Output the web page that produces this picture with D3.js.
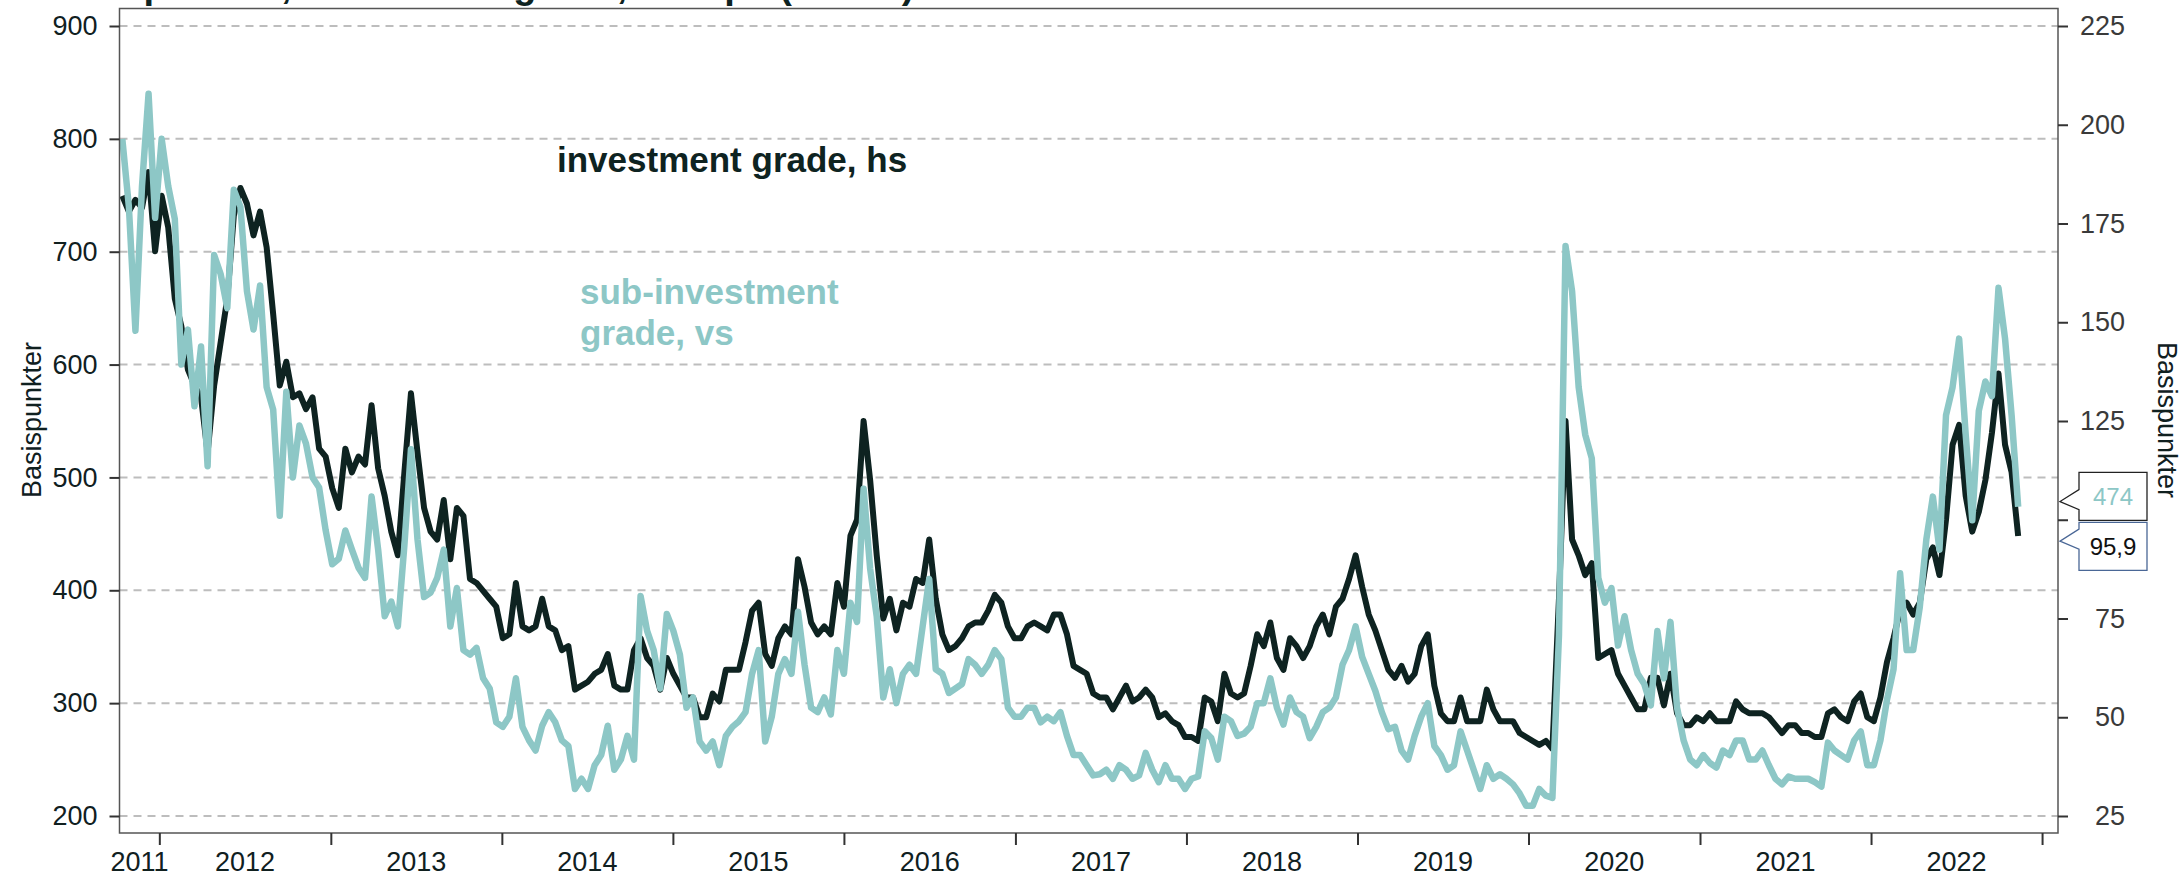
<!DOCTYPE html>
<html>
<head>
<meta charset="utf-8">
<script src="https://cdn.jsdelivr.net/npm/d3@7"></script>
<style>
  body { margin: 0; background: #fff; }
  svg { display: block; font-family: "Liberation Sans", Arial, sans-serif; }
</style>
</head>
<body>
<svg id="chart" width="2183" height="878"></svg>
<script>
// fortnightly observations, first one on this date
var startDate = '2011-10-14';
var stepDays = 14;

// sub-investment grade (left axis, basispunkter)
var subInvestment = [
  800, 740, 630, 758, 840, 730, 800, 758, 729, 600, 631, 563, 616, 510, 697, 680, 650, 755, 740, 665,
  631, 670, 580, 560, 466, 576, 500, 546, 530, 500, 491, 453, 423, 428, 453, 436, 420, 411, 483, 436,
  377, 390, 368, 440, 525, 445, 394, 398, 411, 436, 368, 402, 347, 343, 349, 322, 313, 283, 279, 288,
  322, 279, 267, 258, 280, 292, 283, 267, 262, 224, 233, 224, 245, 254, 280, 241, 250, 271, 250, 395,
  364, 347, 313, 379, 364, 343, 296, 305, 266, 258, 266, 245, 271, 279, 284, 292, 326, 347, 266, 288,
  326, 339, 326, 381, 334, 296, 292, 305, 290, 347, 326, 389, 372, 490, 419, 377, 305, 330, 300, 326,
  334, 326, 368, 410, 330, 326, 309, 313, 317, 339, 334, 326, 334, 347, 339, 296, 288, 288, 296, 296,
  283, 288, 284, 292, 271, 254, 254, 245, 236, 237, 241, 233, 245, 241, 233, 236, 256, 241, 230, 245,
  233, 233, 224, 233, 235, 275, 269, 250, 288, 284, 271, 273, 279, 300, 300, 322, 296, 281, 305, 292,
  288, 269, 279, 292, 296, 305, 334, 347, 368, 341, 326, 311, 292, 277, 279, 258, 250, 271, 288, 300,
  262, 254, 241, 245, 275, 258, 241, 224, 245, 233, 237, 233, 228, 220, 209, 209, 224, 218, 216, 360,
  705, 665, 580, 538, 517, 411, 389, 402, 351, 377, 347, 326, 317, 298, 364, 322, 372, 296, 267, 250,
  245, 254, 247, 243, 258, 254, 267, 267, 250, 250, 258, 245, 233, 228, 235, 233, 233, 233, 230, 226,
  265, 258, 254, 250, 267, 275, 245, 245, 267, 303, 330, 415, 347, 347, 385, 445, 483, 436, 555, 580,
  623, 538, 462, 559, 585, 572, 668, 623, 555, 474
];

// investment grade (right axis, basispunkter)
var investmentGrade = [
  182, 178, 181, 179, 188, 168, 182, 174, 156, 149, 138, 134, 131, 117, 134, 145, 156, 177, 184, 180,
  172, 178, 169, 152, 134, 140, 131, 132, 128, 131, 118, 116, 108, 103, 118, 112, 116, 114, 129, 113,
  106, 97, 91, 112, 132, 117, 103, 97, 95, 105, 90, 103, 101, 85, 84, 82, 80, 78, 70, 71,
  84, 73, 72, 73, 80, 73, 72, 67, 68, 57, 58, 59, 61, 62, 66, 58, 57, 57, 67, 70,
  65, 63, 57, 65, 61, 58, 55, 55, 50, 50, 56, 54, 62, 62, 62, 69, 77, 79, 66, 63,
  70, 73, 71, 90, 83, 74, 71, 73, 71, 84, 78, 96, 100, 125, 110, 91, 75, 80, 72, 79,
  78, 85, 84, 95, 80, 71, 67, 68, 70, 73, 74, 74, 77, 81, 79, 73, 70, 70, 73, 74,
  73, 72, 76, 76, 71, 63, 62, 61, 56, 55, 55, 52, 55, 58, 54, 55, 57, 55, 50, 51,
  49, 48, 45, 45, 44, 55, 54, 49, 61, 56, 55, 56, 63, 71, 68, 74, 65, 62, 70, 68,
  65, 68, 73, 76, 71, 78, 80, 85, 91, 83, 76, 72, 67, 62, 60, 63, 59, 61, 68, 71,
  58, 51, 49, 49, 55, 49, 49, 49, 57, 52, 49, 49, 49, 46, 45, 44, 43, 44, 42, 80,
  125, 95, 91, 86, 89, 65, 66, 67, 61, 58, 55, 52, 52, 60, 60, 53, 61, 51, 48, 48,
  50, 49, 51, 49, 49, 49, 54, 52, 51, 51, 51, 50, 48, 46, 48, 48, 46, 46, 45, 45,
  51, 52, 50, 49, 54, 56, 50, 49, 55, 64, 70, 77, 79, 76, 79, 90, 93, 86, 100, 119,
  124, 106, 97, 102, 110, 122, 137, 119, 112, 95.9
];

var leftTicks = [200, 300, 400, 500, 600, 700, 800, 900];
var rightTicks = [25, 50, 75, 100, 125, 150, 175, 200, 225];
var yearLabels = ['2011', '2012', '2013', '2014', '2015', '2016', '2017', '2018', '2019', '2020', '2021', '2022'];

var titleText = 'Kredittspreader, investment grade, Europa (iTraxx)';
var axisTitle = 'Basispunkter';
var igLabel = 'investment grade, hs';
var subLabel = ['sub-investment', 'grade, vs'];

var teal = '#8dc7c6';
var dark = '#0e2321';

var svg = d3.select('#chart');
var plotLeft = 119.5, plotRight = 2058, plotTop = 8.5, plotBottom = 833;

var parse = d3.timeParse('%Y-%m-%d');
var t0 = parse(startDate);
var dates = subInvestment.map((v, i) => d3.timeDay.offset(t0, i * stepDays));

var x = d3.scaleTime()
  .domain([parse('2011-10-08'), parse('2023-02-04')])
  .range([plotLeft, plotRight]);
var yLeft = d3.scaleLinear().domain([200, 900]).range([816, 26]);
var yRight = d3.scaleLinear().domain([25, 225]).range([816, 26]);

var nb = d3.formatLocale({ decimal: ',', thousands: ' ', grouping: [3], currency: ['', ' kr'] });

// title (mostly outside the picture, as in the original)
svg.append('text')
  .attr('x', 0).attr('y', -2)
  .style('font-size', '38px').style('font-weight', 'bold').attr('fill', dark)
  .text(titleText);

// grid
svg.append('g').selectAll('line')
  .data(leftTicks)
  .enter().append('line')
  .attr('x1', plotLeft).attr('x2', plotRight)
  .attr('y1', d => yLeft(d)).attr('y2', d => yLeft(d))
  .attr('stroke', '#bdbdbd').attr('stroke-width', 2)
  .attr('stroke-dasharray', '8,6');

// series
svg.append('clipPath').attr('id', 'plot')
  .append('rect')
  .attr('x', plotLeft).attr('y', plotTop)
  .attr('width', plotRight - plotLeft).attr('height', plotBottom - plotTop);

var lineLeft = d3.line().x((d, i) => x(dates[i])).y(d => yLeft(d));
var lineRight = d3.line().x((d, i) => x(dates[i])).y(d => yRight(d));

var lines = svg.append('g').attr('clip-path', 'url(#plot)');
lines.append('path')
  .datum(investmentGrade)
  .attr('d', lineRight)
  .attr('fill', 'none').attr('stroke', dark).attr('stroke-width', 6)
  .attr('stroke-linejoin', 'round');
lines.append('path')
  .datum(subInvestment)
  .attr('d', lineLeft)
  .attr('fill', 'none').attr('stroke', teal).attr('stroke-width', 6.5)
  .attr('stroke-linejoin', 'round');

// frame
svg.append('rect')
  .attr('x', plotLeft).attr('y', plotTop)
  .attr('width', plotRight - plotLeft).attr('height', plotBottom - plotTop)
  .attr('fill', 'none').attr('stroke', '#555').attr('stroke-width', 1.5);

// left axis
var gl = svg.append('g')
  .attr('transform', `translate(${plotLeft},0)`)
  .call(d3.axisLeft(yLeft).tickValues(leftTicks).tickSize(10).tickPadding(12));
gl.select('.domain').remove();
gl.selectAll('line').attr('stroke', '#333').attr('stroke-width', 2);
gl.selectAll('text').style('font-size', '27px').attr('fill', '#10201f');

// last-value callouts: positions first, so the right axis can skip labels under them
var lastSub = subInvestment[subInvestment.length - 1];
var lastIg = investmentGrade[investmentGrade.length - 1];
var callouts = [
  { v: yLeft(lastSub), text: nb.format(',.0f')(lastSub), color: teal, border: '#222' },
  { v: yRight(lastIg), text: nb.format(',.1f')(lastIg), color: '#111', border: '#4a6796' }
];
callouts.sort((a, b) => a.v - b.v);
var boxH = 48, gap = 2;
var mid = (callouts[0].v + callouts[1].v) / 2;
if (callouts[1].v - callouts[0].v < boxH + gap) {
  callouts[0].c = mid - (boxH + gap) / 2;
  callouts[1].c = mid + (boxH + gap) / 2;
} else {
  callouts.forEach(d => d.c = d.v);
}
var covered = v => callouts.some(d => Math.abs(yRight(v) - d.c) < boxH / 2);

// right axis
var gr = svg.append('g')
  .attr('transform', `translate(${plotRight},0)`)
  .call(d3.axisRight(yRight).tickValues(rightTicks).tickSize(10)
    .tickFormat(v => covered(v) ? '' : v));
gr.select('.domain').remove();
gr.selectAll('line').attr('stroke', '#333').attr('stroke-width', 2);
gr.selectAll('text')
  .attr('x', 67).attr('text-anchor', 'end')
  .style('font-size', '27px').attr('fill', '#3a3a3a');

// bottom axis: year boundaries as ticks, labels in the middle of each year
var yearTicks = d3.timeYear.range(parse('2012-01-01'), parse('2023-01-02'));
var gb = svg.append('g')
  .attr('transform', `translate(0,${plotBottom})`)
  .call(d3.axisBottom(x).tickValues(yearTicks).tickSize(12).tickFormat(''));
gb.select('.domain').remove();
gb.selectAll('line').attr('stroke', '#333').attr('stroke-width', 2);

svg.append('g').selectAll('text')
  .data(yearLabels)
  .enter().append('text')
  .attr('x', d => {
    var a = Math.max(x(parse(d + '-01-01')), plotLeft);
    var b = Math.min(x(parse((+d + 1) + '-01-01')), plotRight);
    return (a + b) / 2;
  })
  .attr('y', 871)
  .attr('text-anchor', 'middle')
  .style('font-size', '27px').attr('fill', '#10201f')
  .text(d => d);

// axis titles
svg.append('text')
  .attr('transform', 'translate(41,420) rotate(-90)')
  .attr('text-anchor', 'middle')
  .style('font-size', '27px').attr('fill', '#10201f')
  .text(axisTitle);
svg.append('text')
  .attr('transform', 'translate(2158,420) rotate(90)')
  .attr('text-anchor', 'middle')
  .style('font-size', '27px').attr('fill', '#10201f')
  .text(axisTitle);

// series labels
svg.append('text')
  .attr('x', 557).attr('y', 172)
  .style('font-size', '35px').style('font-weight', 'bold').attr('fill', dark)
  .text(igLabel);
svg.append('text')
  .attr('x', 580).attr('y', 304)
  .style('font-size', '35px').style('font-weight', 'bold').attr('fill', teal)
  .selectAll('tspan').data(subLabel).enter().append('tspan')
  .attr('x', 580).attr('dy', (d, i) => i ? 41 : 0)
  .text(d => d);

// callout boxes
var bx = 2079, bw = 68, tipX = plotRight + 2;
callouts.forEach(d => {
  var t = d.c - boxH / 2, b = d.c + boxH / 2;
  var ty = (d.c + d.v) / 2;
  svg.append('path')
    .attr('d', `M${bx},${t}H${bx + bw}V${b}H${bx}V${ty + 8}L${tipX},${ty}L${bx},${ty - 12}Z`)
    .attr('fill', '#fff').attr('stroke', d.border).attr('stroke-width', 1.3);
  svg.append('text')
    .attr('x', bx + bw / 2).attr('y', d.c + 8.5)
    .attr('text-anchor', 'middle')
    .style('font-size', '24px').attr('fill', d.color)
    .text(d.text);
});
</script>
</body>
</html>
